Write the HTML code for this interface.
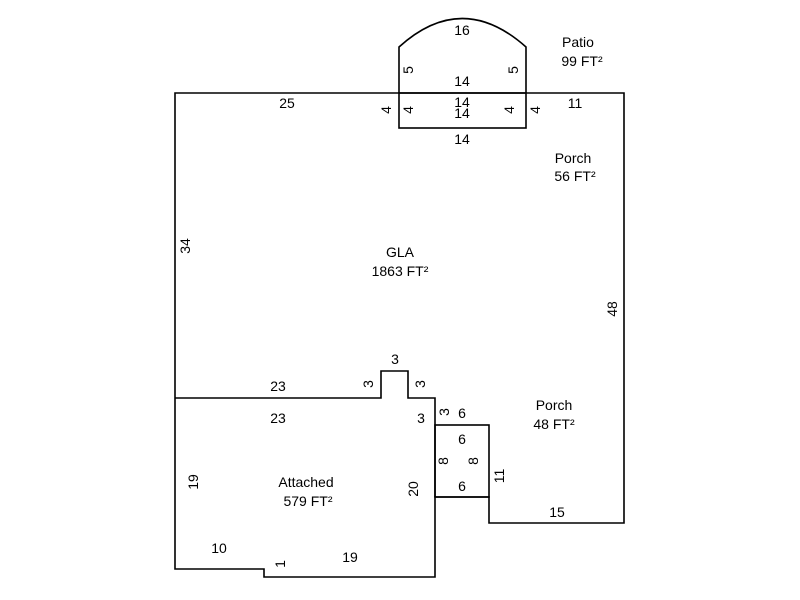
<!DOCTYPE html>
<html><head><meta charset="utf-8"><style>
html,body{margin:0;padding:0;background:#fff;}
svg{display:block;}
text{font-family:"Liberation Sans",Arial,sans-serif;font-size:14px;fill:#000;}
</style></head><body>
<svg width="800" height="600" viewBox="0 0 800 600" xmlns="http://www.w3.org/2000/svg">
<g fill="none" stroke="#000" stroke-width="1.6">
<path d="M175,93 L624,93 L624,523 L489,523 L489,497 L435,497 L435,577 L264,577 L264,569 L175,569 Z"/>
<path d="M175,398 L381,398 L381,371 L408,371 L408,398 L435,398 L435,497"/>
<rect x="435" y="425" width="54" height="72"/>
<rect x="399" y="93" width="127" height="35"/>
<path d="M399,93 L399,47 Q462,-10 526,47 L526,93"/>
</g>
<g text-anchor="middle">
<text x="462" y="35">16</text>
<text x="462" y="86">14</text>
<text x="462" y="107">14</text>
<text x="462" y="118">14</text>
<text x="462" y="144">14</text>
<text x="578" y="47">Patio</text>
<text x="582" y="66">99 FT²</text>
<text x="287" y="108">25</text>
<text x="575" y="108">11</text>
<text x="573" y="163">Porch</text>
<text x="575" y="181">56 FT²</text>
<text x="400" y="257">GLA</text>
<text x="400" y="276">1863 FT²</text>
<text x="395" y="364">3</text>
<text x="278" y="391">23</text>
<text x="278" y="423">23</text>
<text x="421" y="423">3</text>
<text x="462" y="418">6</text>
<text x="462" y="444">6</text>
<text x="462" y="491">6</text>
<text x="554" y="410">Porch</text>
<text x="554" y="429">48 FT²</text>
<text x="306" y="487">Attached</text>
<text x="308" y="506">579 FT²</text>
<text x="219" y="553">10</text>
<text x="350" y="562">19</text>
<text x="557" y="517">15</text>
</g>
<g text-anchor="middle">
<text transform="translate(413,70) rotate(-90)">5</text>
<text transform="translate(518,70) rotate(-90)">5</text>
<text transform="translate(391,110) rotate(-90)">4</text>
<text transform="translate(413,110) rotate(-90)">4</text>
<text transform="translate(514,110) rotate(-90)">4</text>
<text transform="translate(540,110) rotate(-90)">4</text>
<text transform="translate(190,246) rotate(-90)">34</text>
<text transform="translate(617,309) rotate(-90)">48</text>
<text transform="translate(373,384) rotate(-90)">3</text>
<text transform="translate(425,384) rotate(-90)">3</text>
<text transform="translate(449,412) rotate(-90)">3</text>
<text transform="translate(448,461) rotate(-90)">8</text>
<text transform="translate(478,461) rotate(-90)">8</text>
<text transform="translate(504,476) rotate(-90)">11</text>
<text transform="translate(198,482) rotate(-90)">19</text>
<text transform="translate(418,489) rotate(-90)">20</text>
<text transform="translate(285,564) rotate(-90)">1</text>
</g>
</svg>
</body></html>
